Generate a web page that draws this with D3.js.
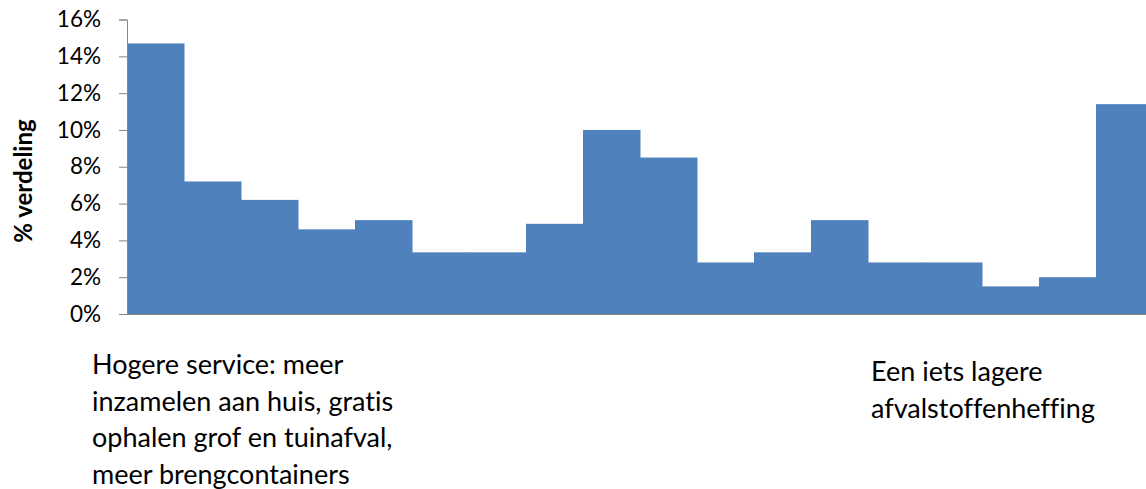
<!DOCTYPE html>
<html>
<head>
<meta charset="utf-8">
<script src="https://cdn.jsdelivr.net/npm/d3@7"></script>
<style>
  body { margin: 0; background: #fff; }
  svg { display: block; font-family: Lato, "Open Sans", sans-serif; font-variant-ligatures: none; }
</style>
</head>
<body>
<div id="chart"></div>
<script>
const width = 1146;
const height = 489;

// 18 answer positions on the scale, left (more service) to right (lower levy)
const categories = d3.range(1, 19).map(String);
const shares = [14.7, 7.2, 6.2, 4.6, 5.1, 3.35, 3.35, 4.9, 10.0, 8.5, 2.8, 3.35, 5.1, 2.8, 2.8, 1.5, 2.0, 11.4];
const yTicks = [0, 2, 4, 6, 8, 10, 12, 14, 16];
const leftNote = ['Hogere service: meer', 'inzamelen aan huis, gratis', 'ophalen grof en tuinafval,', 'meer brengcontainers'];
const rightNote = ['Een iets lagere', 'afvalstoffenheffing'];

const svg = d3.select('#chart')
    .append('svg')
    .attr('width', width)
    .attr('height', height);

const plot = { left: 127, right: 1153, top: 19.5, bottom: 314 };

const xScale = d3.scaleBand()
    .domain(categories)
    .range([plot.left, plot.right])
    .padding(0);

const yScale = d3.scaleLinear()
    .domain([0, 16])
    .range([plot.bottom, plot.top]);

// x axis line (under the bars)
svg.append('line')
    .attr('x1', plot.left).attr('x2', width)
    .attr('y1', plot.bottom + 0.5).attr('y2', plot.bottom + 0.5)
    .attr('stroke', '#868686');

// bars
svg.append('g')
    .attr('class', 'bars')
    .selectAll('rect')
    .data(shares)
    .join('rect')
    .attr('x', (d, i) => xScale(categories[i]))
    .attr('y', d => yScale(d))
    .attr('width', xScale.bandwidth() + 0.5)
    .attr('height', d => yScale(0) - yScale(d))
    .attr('fill', '#4f81bd');

// y axis
const yAxis = svg.append('g')
    .attr('class', 'y-axis')
    .attr('transform', `translate(${plot.left}, 0)`)
    .call(d3.axisLeft(yScale).tickValues(yTicks).tickSize(8).tickPadding(18)
        .tickFormat(d => d + '%'));

yAxis.select('.domain').attr('stroke', '#868686');
yAxis.selectAll('.tick line').attr('stroke', '#868686');
yAxis.selectAll('.tick text')
    .attr('fill', '#000')
    .style('font-size', '22.5px')
    .style('font-family', 'Lato, "Open Sans", sans-serif');

// y label
svg.append('text')
    .attr('transform', 'translate(32, 181) rotate(-90)')
    .attr('text-anchor', 'middle')
    .style('font-size', '24px')
    .style('font-weight', 'bold')
    .text('% verdeling');

// notes under the axis
svg.append('text')
    .attr('x', 92)
    .attr('y', 374)
    .style('font-size', '27px')
    .selectAll('tspan')
    .data(leftNote)
    .join('tspan')
    .attr('x', 92)
    .attr('dy', (d, i) => i === 0 ? 0 : 36.7)
    .text(d => d);

svg.append('text')
    .attr('x', 871)
    .attr('y', 381)
    .style('font-size', '27px')
    .selectAll('tspan')
    .data(rightNote)
    .join('tspan')
    .attr('x', 871)
    .attr('dy', (d, i) => i === 0 ? 0 : 36.7)
    .text(d => d);
</script>
</body>
</html>
